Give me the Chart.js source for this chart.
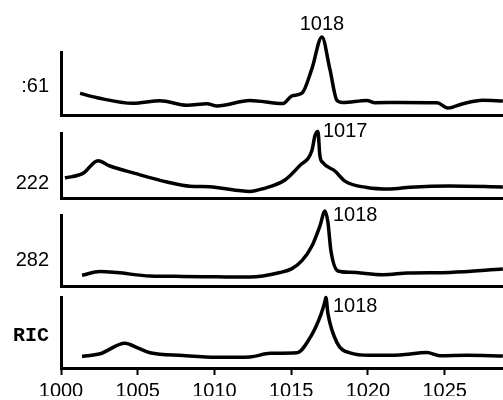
<!DOCTYPE html>
<html><head><meta charset="utf-8">
<script src="https://cdn.jsdelivr.net/npm/chart.js@4"></script>
<style>
html,body{margin:0;padding:0;background:#fff;}
#wrap{position:relative;width:503px;height:400px;overflow:hidden;background:#fff;}
#wrap canvas{position:absolute;left:0;top:0;}
</style>
</head><body>
<div id="wrap">
<canvas id="c0" width="503" height="400"></canvas>
<canvas id="c1" width="503" height="400"></canvas>
<canvas id="c2" width="503" height="400"></canvas>
<canvas id="c3" width="503" height="400"></canvas>
</div>
<script>
// ---- data ----
const xTicks = [1000, 1005, 1010, 1015, 1020, 1025];
const ionLabels = [':61', '222', '282', 'RIC'];
const peakLabels = ['1018', '1017', '1018', '1018'];

const t61 = [1001.24,1002.35,1004.69,1006.45,1008.21,1009.51,1010.16,1012.31,1014.46,1015.05,1015.70,1016.35,1017.00,1017.52,1017.98,1018.37,1019.93,1020.46,1022.08,1024.50,1025.21,1026.19,1027.49,1028.79];
const y61 = [21.6,17.3,11.7,14.2,9.7,11.3,9.1,14.5,11.4,19.1,21.8,46.4,78,45.8,14.6,12.4,14.6,12.3,12.5,12.2,6.9,11.3,14.7,14];

const t222 = [1000.26,1001.43,1002.41,1003.19,1004.82,1006.91,1008.40,1009.71,1010.36,1012.31,1013.16,1014.59,1015.57,1016.35,1016.55,1016.74,1016.87,1017.07,1017.85,1018.50,1019.93,1021.43,1022.74,1025.34,1028.79];
const y222 = [20,24.6,37.3,32,24.6,16,11.7,11.3,10,6.6,9.3,18,32.7,47.5,62.4,66.4,42.3,35.3,27,16.9,10.5,9,10.7,12,11];

const t282 = [1001.37,1002.54,1003.65,1005.80,1007.95,1010.16,1012.31,1014.27,1015.05,1015.70,1016.35,1016.87,1017.20,1017.39,1017.59,1018.05,1018.83,1020.98,1022.61,1025.34,1028.79];
const y282 = [10.8,14.5,13.4,10,9.6,9.2,8.9,13.5,17.4,25.3,40,60,75,64,35,15,13.7,11.3,13,13.6,17];

const tRIC = [1001.37,1002.54,1004.17,1004.95,1005.80,1007.95,1010.16,1012.31,1013.62,1015.37,1016.29,1016.94,1017.20,1017.26,1017.39,1017.98,1018.83,1020.13,1022.08,1023.84,1024.69,1026.45,1028.79];
const yRIC = [11.6,14.2,24.7,20.4,15.2,12.5,10.8,11.1,14.7,15.2,31.9,53.7,66.6,70.6,54.6,25.4,15.1,12.7,13.1,15.5,12.3,12.7,12];

const seriesT = [t61, t222, t282, tRIC];
const seriesY = [y61, y222, y282, yRIC];

// ---- layout / style ----
const panels = [
  {top: 52,  bottom: 115, labelAt: 29, peak: {align:'center', dx:0, dy:-13}},
  {top: 133, bottom: 198, labelAt: 15, peak: {align:'left', dx:5, dy:0}},
  {top: 215, bottom: 286, labelAt: 26, peak: {align:'left', dx:8, dy:4}},
  {top: 297, bottom: 368, labelAt: 32, peak: {align:'left', dx:7, dy:9}}
];
const sans = 'Liberation Sans, Arial, sans-serif';

const peakLabelPlugin = {
  id: 'peakLabel',
  afterDatasetsDraw(chart, args, opts) {
    const d = chart.data.datasets[0].data;
    let b = 0;
    for (let i = 1; i < d.length; i++) if (d[i].y > d[b].y) b = i;
    const x = chart.scales.x.getPixelForValue(d[b].x);
    const y = chart.scales.y.getPixelForValue(d[b].y);
    const ctx = chart.ctx;
    ctx.save();
    ctx.font = '20px ' + sans;
    ctx.fillStyle = '#000';
    ctx.textAlign = opts.align;
    ctx.textBaseline = 'middle';
    ctx.fillText(opts.text, x + opts.dx, y + opts.dy);
    ctx.restore();
  }
};

panels.forEach((p, i) => {
  const isLast = i === panels.length - 1;
  const xAxisH = isLast ? 28 : 0;
  const h = p.bottom - p.top;
  const pts = seriesT[i].map((t, k) => ({x: t, y: seriesY[i][k]}));
  new Chart(document.getElementById('c' + i), {
    type: 'line',
    data: {datasets: [{
      data: pts,
      borderColor: '#000',
      borderWidth: 3.5,
      pointRadius: 0,
      cubicInterpolationMode: 'monotone',
      fill: false,
      clip: false
    }]},
    options: {
      responsive: false,
      animation: false,
      events: [],
      layout: {padding: {top: p.top, bottom: 400 - p.bottom - xAxisH, left: 0, right: 0}},
      plugins: {
        legend: {display: false},
        tooltip: {enabled: false},
        peakLabel: Object.assign({text: peakLabels[i]}, p.peak)
      },
      scales: {
        x: {
          type: 'linear',
          min: 1000,
          max: 1028.8,
          afterBuildTicks: s => { s.ticks = xTicks.map(v => ({value: v})); },
          afterFit: s => { s.height = xAxisH; },
          grid: {drawOnChartArea: false, drawTicks: isLast, tickLength: 7, tickWidth: 2, tickColor: '#000'},
          border: {display: true, color: '#000', width: 3},
          ticks: {display: isLast, color: '#000', font: {family: sans, size: 20}, padding: 4, maxRotation: 0, autoSkip: false,
                  callback: v => String(v)}
        },
        y: {
          min: 0,
          max: h,
          afterBuildTicks: s => { s.ticks = [{value: p.labelAt}]; },
          afterFit: s => { s.width = 61; },
          grid: {drawOnChartArea: false, drawTicks: false},
          border: {display: true, color: '#000', width: 3},
          ticks: {
            color: '#000',
            padding: 12,
            font: isLast ? {family: 'Liberation Mono, Courier New, monospace', size: 20, weight: 'bold'} : {family: sans, size: 20},
            callback: () => ionLabels[i]
          }
        }
      }
    },
    plugins: [peakLabelPlugin]
  });
});
</script>
</body></html>
